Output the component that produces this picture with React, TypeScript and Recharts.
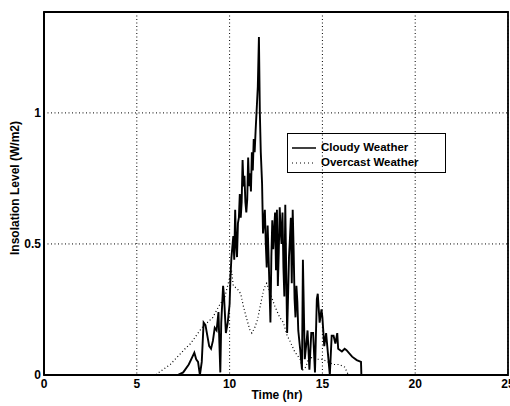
import React from "react";
import {
  LineChart,
  Line,
  XAxis,
  YAxis,
  CartesianGrid,
  ReferenceArea,
  Legend,
  Label,
} from "recharts";

// readings taken off the plot (hours, W/m2)
const cloudyTime = [
  0, 7.2, 7.5, 7.8, 8.0, 8.1, 8.2, 8.3, 8.4, 8.5,
  8.6, 8.7, 8.8, 8.9, 9.0, 9.1, 9.2, 9.3, 9.4, 9.45,
  9.5, 9.55, 9.65, 9.7, 9.8, 9.9, 10.0, 10.05, 10.1, 10.2,
  10.25, 10.3, 10.35, 10.4, 10.45, 10.5, 10.55, 10.6, 10.65, 10.7,
  10.75, 10.8, 10.85, 10.9, 10.95, 11.0, 11.05, 11.1, 11.15, 11.2,
  11.25, 11.3, 11.35, 11.4, 11.45, 11.52, 11.58, 11.63, 11.68, 11.75,
  11.8, 11.9, 11.95, 12.0, 12.05, 12.1, 12.15, 12.2, 12.25, 12.3,
  12.35, 12.45, 12.5, 12.55, 12.6, 12.65, 12.7, 12.75, 12.8, 12.85,
  12.9, 12.95, 13.0, 13.05, 13.1, 13.15, 13.2, 13.25, 13.3, 13.35,
  13.4, 13.45, 13.5, 13.55, 13.6, 13.65, 13.7, 13.8, 13.9, 13.95,
  14.05, 14.15, 14.2, 14.3, 14.4, 14.5, 14.6, 14.7, 14.75, 14.85,
  14.95, 15.0, 15.1, 15.2, 15.3, 15.4, 15.5, 15.6, 15.7, 15.8,
  15.85, 16.05, 16.2, 16.3, 16.6, 16.85, 17.08, 17.1, 25,
];
const cloudyLevel = [
  0, 0, 0.01, 0.04, 0.07, 0.085, 0.06, 0.05, 0, 0.05,
  0.2, 0.19, 0.15, 0.11, 0.1, 0.13, 0.18, 0.17, 0.24, 0.12,
  0.01, 0.2, 0.34, 0.3, 0.16, 0.2, 0.27, 0.38, 0.45, 0.53,
  0.44, 0.63, 0.5, 0.45, 0.58, 0.6, 0.69, 0.6, 0.66, 0.82,
  0.72, 0.76, 0.66, 0.62, 0.67, 0.83, 0.72, 0.77, 0.7, 0.85,
  0.78, 0.9, 0.85, 0.93, 1.0, 1.1, 1.29, 1.0, 0.85, 0.73,
  0.54, 0.63, 0.5, 0.41, 0.57, 0.45, 0.33, 0.2, 0.45, 0.59,
  0.48, 0.62, 0.4, 0.63, 0.34, 0.47, 0.64, 0.55, 0.5, 0.62,
  0.41, 0.3, 0.65, 0.4, 0.16, 0.3, 0.45, 0.52, 0.6, 0.35,
  0.63, 0.48, 0.29, 0.22, 0.34, 0.28, 0.17, 0.1, 0.02, 0.44,
  0.06, 0.13, 0.17, 0.02, 0.16, 0.16, 0.01, 0.29, 0.31, 0.2,
  0.25, 0.22, 0.11, 0.16, 0.08, 0, 0.15, 0.15, 0.12, 0.16,
  0.1, 0.09, 0.1, 0.095, 0.07, 0.057, 0.05, 0, 0,
];

const overcastTime = [
  0, 6.0, 6.4, 6.8, 7.2, 7.6, 7.9, 8.2, 8.5, 8.8,
  9.1, 9.4, 9.75, 10.0, 10.1, 10.2, 10.4, 10.6, 10.75, 10.9,
  11.1, 11.2, 11.35, 11.5, 11.7, 11.85, 12.0, 12.2, 12.45, 12.7,
  12.9, 13.1, 13.25, 13.5, 13.8, 13.95, 14.1, 14.3, 14.6, 15.0,
  15.3, 15.6, 15.9, 16.2, 16.4, 25,
];
const overcastLevel = [
  0, 0, 0.02, 0.04, 0.07, 0.1, 0.12, 0.15, 0.18, 0.2,
  0.22, 0.26, 0.3, 0.37, 0.4, 0.34, 0.33, 0.31, 0.26, 0.22,
  0.17, 0.16, 0.18, 0.21, 0.28, 0.33, 0.35, 0.31, 0.26, 0.22,
  0.2, 0.15, 0.13, 0.09, 0.06, 0.02, 0.03, 0.07, 0.06, 0.06,
  0.05, 0.04, 0.04, 0.03, 0, 0,
];

const xTicks = [0, 5, 10, 15, 20, 25];
const yTicks = [0, 0.5, 1];
const seriesNames = ["Cloudy Weather", "Overcast Weather"];

const cloudy = cloudyTime.map((t, i) => ({ t, level: cloudyLevel[i] }));
const overcast = overcastTime.map((t, i) => ({ t, level: overcastLevel[i] }));

const FONT = '"Liberation Sans", Arial, Helvetica, sans-serif';
const Y_MAX = 1.385;

const tickStyle = { fill: "#000", fontSize: 12, fontWeight: 700, fontFamily: FONT };

// boxed legend like matlab's
const renderLegend = () => (
  <div
    style={{
      border: "1.5px solid #000",
      width: 159,
      height: 40,
      paddingTop: 6,
      paddingLeft: 4,
      boxSizing: "border-box",
      fontFamily: FONT,
      fontWeight: 700,
      fontSize: 11.5,
      color: "#000",
      lineHeight: "15px",
    }}
  >
    {seriesNames.map((name, i) => (
      <div key={name} style={{ display: "flex", alignItems: "center", height: 15 }}>
        <svg width={24} height={4}>
          <line
            x1={0}
            y1={2}
            x2={24}
            y2={2}
            stroke="#000"
            strokeWidth={i === 0 ? 1.5 : 1.2}
            strokeDasharray={i === 0 ? undefined : "1 3"}
          />
        </svg>
        <span style={{ marginLeft: 5, whiteSpace: "nowrap" }}>{name}</span>
      </div>
    ))}
  </div>
);

export default function App() {
  return (
    <div style={{ position: "absolute", left: 0, top: 0, width: 510, height: 406, background: "#fff" }}>
      <LineChart width={510} height={406} margin={{ top: 12, right: 2, bottom: 0, left: 0 }}>
        <CartesianGrid stroke="#000" strokeDasharray="1 2.5" strokeWidth={1} />
        <XAxis
          dataKey="t"
          type="number"
          domain={[0, 25]}
          ticks={xTicks}
          height={31}
          tickSize={0}
          tickMargin={4}
          tick={tickStyle}
          axisLine={{ stroke: "#000", strokeWidth: 2 }}
          tickLine={false}
          interval={0}
        >
          <Label
            content={() => (
              <text
                x={277}
                y={399}
                textAnchor="middle"
                fontFamily={FONT}
                fontWeight={700}
                fontSize={12}
                fill="#000"
              >
                Time (hr)
              </text>
            )}
          />
        </XAxis>
        <YAxis
          type="number"
          domain={[0, Y_MAX]}
          ticks={yTicks}
          width={44}
          tickSize={0}
          tickMargin={3}
          tick={tickStyle}
          axisLine={{ stroke: "#000", strokeWidth: 2 }}
          tickLine={false}
          interval={0}
        >
          <Label
            content={() => (
              <text
                x={19}
                y={188}
                transform="rotate(-90 19 188)"
                textAnchor="middle"
                fontFamily={FONT}
                fontWeight={700}
                fontSize={12}
                fill="#000"
              >
                Insolation Level (W/m2)
              </text>
            )}
          />
        </YAxis>
        <ReferenceArea
          x1={0}
          x2={25}
          y1={0}
          y2={Y_MAX}
          fill="none"
          stroke="#000"
          strokeWidth={1.8}
          ifOverflow="visible"
        />
        <Line
          data={overcast}
          dataKey="level"
          name={seriesNames[1]}
          type="linear"
          stroke="#000"
          strokeWidth={1.2}
          strokeDasharray="1 2.5"
          dot={false}
          isAnimationActive={false}
        />
        <Line
          data={cloudy}
          dataKey="level"
          name={seriesNames[0]}
          type="linear"
          stroke="#000"
          strokeWidth={1.9}
          dot={false}
          isAnimationActive={false}
        />
        <Legend
          layout="horizontal"
          verticalAlign="middle"
          align="center"
          content={renderLegend}
          wrapperStyle={{ left: 287, top: 133, width: "auto", height: "auto" }}
        />
      </LineChart>
    </div>
  );
}
